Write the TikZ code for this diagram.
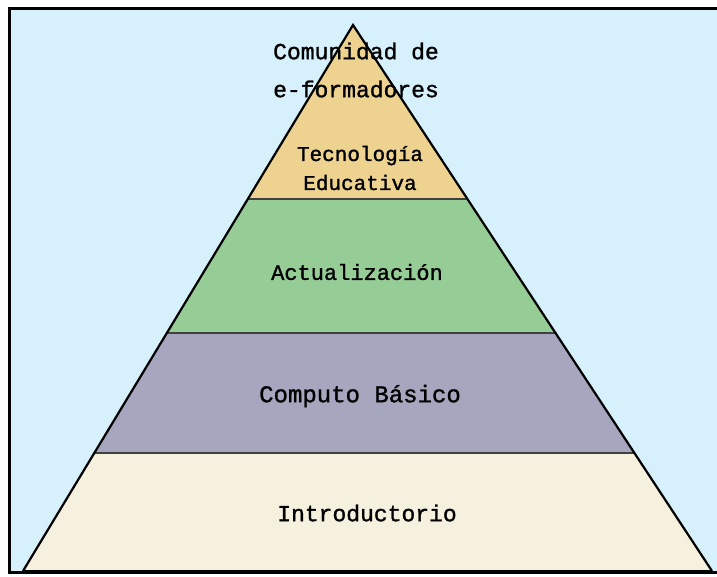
\documentclass[tikz,border=0pt]{standalone}
\usepackage{fontspec}
\setmonofont[FakeBold=1.2]{Liberation Mono}
\usetikzlibrary{calc}

\definecolor{fondo}{RGB}{214,240,252}
\definecolor{arena}{RGB}{237,211,143}
\definecolor{verde}{RGB}{150,205,150}
\definecolor{lila}{RGB}{166,166,190}
\definecolor{crema}{RGB}{246,240,222}

\tikzset{
  nivel/.style={font=\ttfamily\fontsize{22}{26}\selectfont, align=center, inner sep=0pt},
  borde/.style={line width=2.2pt, line join=miter},
  corte/.style={line width=1.6pt, draw=black!75}
}

\begin{document}
\begin{tikzpicture}[x=1pt,y=-1pt]
  \useasboundingbox (0,0) rectangle (717,576);
  % fondo y marco
  \fill[fondo] (9,8) rectangle (717,572);
  \draw[line width=3pt] (717,8) -- (9,8) -- (9,572) -- (717,572);

  % vertices de la piramide
  \coordinate (a) at (353,25);
  \coordinate (bl) at (23,571);
  \coordinate (br) at (712,571);
  \coordinate (l1) at ($(a)!0.3187!(bl)$);
  \coordinate (r1) at ($(a)!0.3187!(br)$);
  \coordinate (l2) at ($(a)!0.564!(bl)$);
  \coordinate (r2) at ($(a)!0.564!(br)$);
  \coordinate (l3) at ($(a)!0.784!(bl)$);
  \coordinate (r3) at ($(a)!0.784!(br)$);

  % niveles
  \fill[arena] (a) -- (r1) -- (l1) -- cycle;
  \fill[verde] (l1) -- (r1) -- (r2) -- (l2) -- cycle;
  \fill[lila] (l2) -- (r2) -- (r3) -- (l3) -- cycle;
  \fill[crema] (l3) -- (r3) -- (br) -- (bl) -- cycle;
  \begin{scope}[corte]
    \draw (l1) -- (r1);
    \draw (l2) -- (r2);
    \draw (l3) -- (r3);
  \end{scope}
  \draw[borde] (bl) -- (a) -- (br);
  \draw[line width=3pt] (bl) -- (br);

  % textos
  \node[nivel, font=\ttfamily\fontsize{23}{38}\selectfont] (comunidad) at (356,70) {Comunidad de\\e-formadores};
  \node[nivel, font=\ttfamily\fontsize{21}{29}\selectfont] (tecnologia) at (360,168) {Tecnología\\Educativa};
  \node[nivel] (actualizacion) at (357,272) {Actualización};
  \node[nivel, font=\ttfamily\fontsize{24}{28}\selectfont] (computo) at (360,396) {Computo Básico};
  \node[nivel, font=\ttfamily\fontsize{23}{28}\selectfont] (introductorio) at (367,513) {Introductorio};
\end{tikzpicture}
\end{document}
